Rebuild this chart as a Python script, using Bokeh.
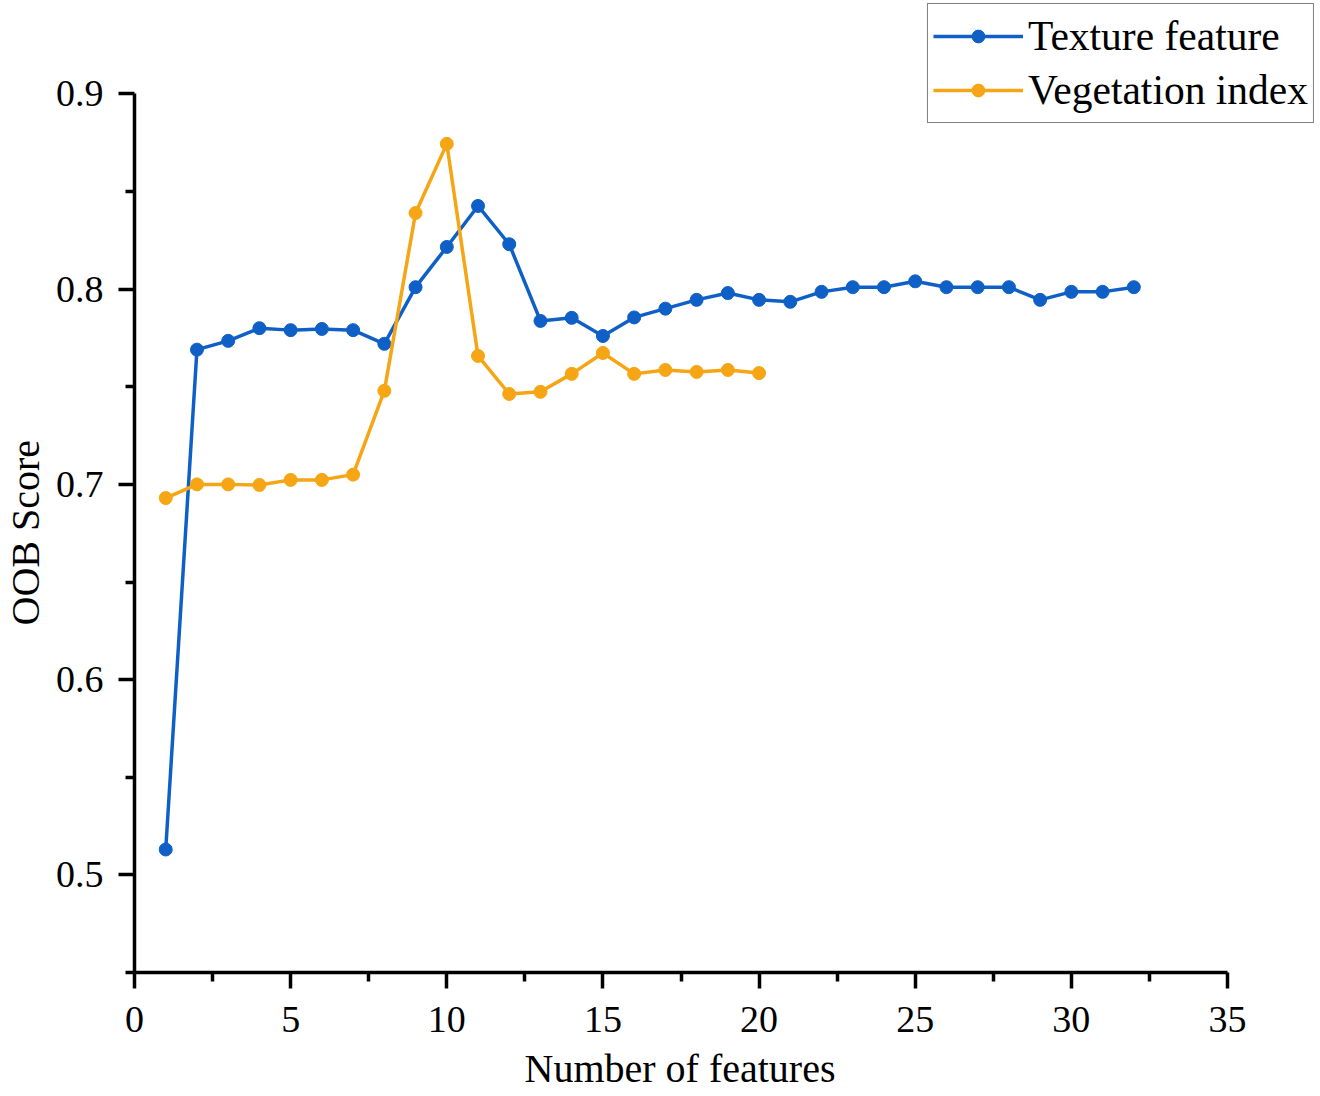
from bokeh.plotting import figure
from bokeh.models import Range1d, FixedTicker, Legend, LegendItem, Title
from bokeh.embed import file_html
from bokeh.resources import INLINE

# ---- data ----
features_texture = list(range(1, 33))
texture_score = [0.513, 0.769, 0.7735, 0.780, 0.779, 0.7796, 0.779, 0.772,
                 0.801, 0.8216, 0.8426, 0.823, 0.7837, 0.7853, 0.776, 0.7855,
                 0.790, 0.7945, 0.798, 0.7945, 0.7935, 0.7986, 0.801, 0.801,
                 0.804, 0.801, 0.801, 0.801, 0.7945, 0.7986, 0.7986, 0.801]
features_veg = list(range(1, 21))
veg_score = [0.693, 0.700, 0.700, 0.6997, 0.7023, 0.7023, 0.705, 0.7479,
             0.839, 0.8744, 0.7658, 0.7463, 0.7474, 0.7566, 0.7673, 0.7566,
             0.7586, 0.7576, 0.7586, 0.757]
x_ticks = [0, 5, 10, 15, 20, 25, 30, 35]
x_minor = [2.5, 7.5, 12.5, 17.5, 22.5, 27.5, 32.5]
y_ticks = [0.5, 0.6, 0.7, 0.8, 0.9]
y_minor = [0.45, 0.55, 0.65, 0.75, 0.85]
x_title = "Number of features"
y_title = "OOB Score"

BLUE = "#0F60C6"
ORANGE = "#F6A514"
FONT = "Liberation Serif"

px_per_x = (1226 - 133) / 35.0
px_per_y = 1952.5
frame_w = 1183
frame_h = 972

p = figure(frame_width=frame_w, frame_height=frame_h,
           x_range=Range1d(0, frame_w / px_per_x),
           y_range=Range1d(0.45, 0.45 + frame_h / px_per_y),
           output_backend="svg", toolbar_location=None,
           min_border_left=133, min_border_right=2,
           min_border_top=0, min_border_bottom=100)

p.outline_line_color = None
p.xgrid.visible = False
p.ygrid.visible = False
p.background_fill_color = "white"
p.border_fill_color = "white"

for ax, ticks, minor, bounds in ((p.xaxis[0], x_ticks, x_minor, (0, 35)),
                                 (p.yaxis[0], y_ticks, y_minor, (0.45, 0.9))):
    ax.ticker = FixedTicker(ticks=ticks, minor_ticks=minor)
    ax.bounds = bounds
    ax.axis_line_width = 3.5
    ax.axis_line_color = "black"
    ax.major_tick_line_width = 3.5
    ax.minor_tick_line_width = 3.5
    ax.major_tick_line_color = "black"
    ax.minor_tick_line_color = "black"
    ax.major_tick_out = 16
    ax.major_tick_in = 0
    ax.minor_tick_out = 9
    ax.minor_tick_in = 0
    ax.major_label_text_font = FONT
    ax.major_label_text_font_size = "38px"
    ax.major_label_text_color = "black"

p.xaxis.major_label_standoff = 18
p.yaxis.major_label_standoff = 15
p.yaxis.major_label_overrides = {0.5: "0.5", 0.6: "0.6", 0.7: "0.7", 0.8: "0.8", 0.9: "0.9"}

# axis titles, aligned on the axis extent (0..35 and 0.45..0.9)
xt = Title(text=x_title, align="left", offset=390, standoff=19,
           text_font=FONT, text_font_size="40px", text_font_style="normal",
           text_color="black")
p.add_layout(xt, "below")
yt = Title(text=y_title, align="left", offset=347, standoff=5,
           vertical_align="top",
           text_font=FONT, text_font_size="40px", text_font_style="normal",
           text_color="black")
p.add_layout(yt, "left")

l1 = p.line(features_texture, texture_score, line_color=BLUE, line_width=3.5)
c1 = p.scatter(features_texture, texture_score, marker="circle", size=13,
               fill_color=BLUE, line_color=BLUE)
l2 = p.line(features_veg, veg_score, line_color=ORANGE, line_width=3.5)
c2 = p.scatter(features_veg, veg_score, marker="circle", size=13,
               fill_color=ORANGE, line_color=ORANGE)

legend = Legend(items=[LegendItem(label="Texture feature", renderers=[l1, c1]),
                       LegendItem(label="Vegetation index", renderers=[l2, c2])],
                location="top_right", margin=3, padding=5, spacing=0,
                glyph_width=90, glyph_height=32, label_height=54,
                label_standoff=5,
                label_text_font=FONT, label_text_font_size="41.5px",
                label_text_color="black",
                border_line_color="black", border_line_width=1.5,
                background_fill_alpha=1.0, background_fill_color="white")
p.add_layout(legend)

open("out.html", "w").write(file_html(p, INLINE))
